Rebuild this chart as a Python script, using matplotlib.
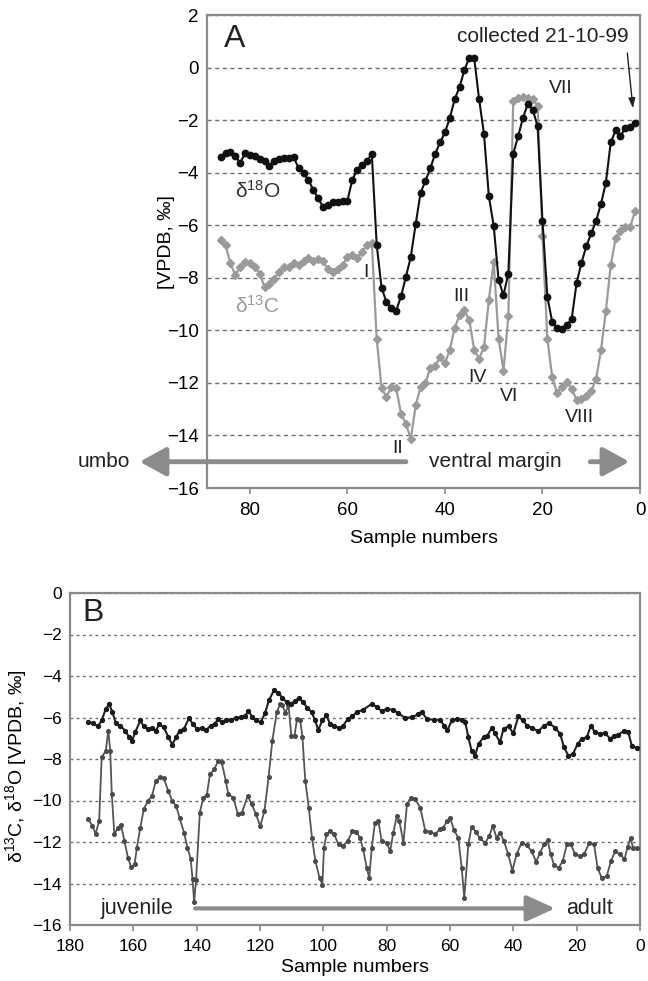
import matplotlib
matplotlib.use("Agg")
import matplotlib.pyplot as plt

plt.rcParams['font.family'] = ['Liberation Sans', 'DejaVu Sans']
plt.rcParams['mathtext.fontset'] = 'custom'
plt.rcParams['mathtext.rm'] = 'Liberation Sans'
plt.rcParams['mathtext.it'] = 'Liberation Sans:italic'
plt.rcParams['mathtext.bf'] = 'Liberation Sans:bold'

# ---------------- Panel A data ----------------
a_samples = list(range(86, 0, -1))
a_d18O = [-3.42, -3.25, -3.23, -3.36, -3.64, -3.26, -3.32, -3.38, -3.49, -3.57,
          -3.74, -3.54, -3.49, -3.45, -3.46, -3.42, -3.83, -4.02, -4.27, -4.66,
          -4.98, -5.30, -5.23, -5.10, -5.10, -5.06, -5.07, -4.27, -3.89, -3.70,
          -3.54, -3.29, -6.74, -8.38, -8.92, -9.14, -9.25, -8.70, -7.96, -7.20,
          -5.95, -4.76, -4.31, -3.83, -3.28, -2.85, -2.47, -1.92, -1.20, -0.74,
          -0.08, 0.37, 0.35, -1.20, -2.52, -4.89, -6.03, -8.09, -8.66, -7.84,
          -3.28, -2.62, -1.92, -1.37, -1.60, -2.24, -5.83, -8.73, -9.68, -9.90,
          -9.94, -9.81, -9.55, -8.19, -7.43, -6.79, -6.31, -5.83, -5.19, -4.38,
          -2.85, -2.39, -2.60, -2.30, -2.26, -2.12]
a_d13C = [-6.56, -6.76, -7.45, -7.90, -7.58, -7.39, -7.45, -7.58, -7.84, -8.35,
          -8.22, -8.03, -7.77, -7.58, -7.58, -7.43, -7.52, -7.35, -7.26, -7.35,
          -7.30, -7.35, -7.68, -7.77, -7.65, -7.52, -7.20, -7.14, -7.26, -7.01,
          -6.76, -6.67, -10.32, -12.20, -12.54, -12.15, -12.20, -13.18, -13.56, -14.13,
          -12.86, -12.16, -12.01, -11.43, -11.37, -11.02, -11.25, -10.74, -9.90, -9.43,
          -9.24, -9.62, -10.74, -11.08, -10.64, -8.85, -7.39, -10.32, -11.53, -9.47,
          -1.29, -1.16, -1.12, -1.15, -1.20, -1.45, -6.40, -10.32, -11.78, -12.39,
          -12.16, -11.97, -12.23, -12.65, -12.60, -12.48, -12.32, -11.85, -10.76, -9.26,
          -7.52, -6.50, -6.21, -6.05, -6.05, -5.45]
a_xticks = [80, 60, 40, 20, 0]
a_yticks = [2, 0, -2, -4, -6, -8, -10, -12, -14, -16]
a_event_labels = ['I', 'II', 'III', 'IV', 'VI', 'VII', 'VIII']
a_event_x = [56.3, 49.7, 36.7, 33.3, 26.8, 16.2, 12.5]
a_event_y = [-7.8, -14.5, -8.7, -11.8, -12.5, -0.8, -13.3]

# ---------------- Panel B data ----------------
b_O_x = [174.2, 172.6, 171.2, 170.0, 168.7, 167.6, 166.6, 165.5, 164.2, 162.6,
         161.3, 160.4, 159.4, 157.8, 156.7, 155.4, 154.1, 152.9, 151.8, 150.4,
         149.0, 147.7, 146.5, 145.4, 144.0, 142.4, 141.2, 139.8, 138.2, 137.0,
         135.6, 134.3, 133.2, 131.9, 130.7, 129.3, 127.7, 126.1, 124.8, 123.7,
         122.4, 121.2, 119.8, 118.4, 117.2, 115.6, 114.2, 112.9, 111.6, 110.3,
         108.9, 107.7, 106.4, 105.1, 103.7, 102.6, 101.6, 100.3, 99.0, 97.9,
         96.6, 95.2, 93.9, 92.3, 90.8, 89.5, 87.4, 84.7, 83.1, 81.6,
         80.0, 78.1, 76.3, 74.2, 72.1, 70.0, 68.9, 67.3, 65.2, 63.1,
         61.9, 60.8, 59.4, 57.8, 56.3, 55.2, 54.2, 53.2, 52.1, 51.0,
         49.4, 48.2, 46.8, 45.8, 44.2, 43.1, 41.5, 40.0, 38.4, 37.0,
         35.7, 34.2, 32.1, 30.3, 28.6, 26.8, 25.2, 24.0, 22.6, 21.2,
         19.7, 18.4, 16.8, 15.5, 14.2, 12.6, 11.0, 9.4, 8.2, 6.8,
         5.2, 3.7, 2.6, 1.0]
b_O_y = [-6.23, -6.28, -6.43, -6.14, -5.58, -5.37, -5.74, -6.28, -6.39, -6.63,
         -6.95, -7.11, -6.71, -6.14, -6.43, -6.55, -6.50, -6.63, -6.33, -6.47,
         -6.92, -7.31, -6.95, -6.63, -6.55, -6.02, -6.33, -6.55, -6.50, -6.60,
         -6.39, -6.31, -6.07, -6.23, -6.14, -6.11, -6.02, -5.98, -5.95, -5.69,
         -5.98, -6.14, -6.23, -5.79, -5.18, -4.69, -4.82, -5.05, -5.26, -5.34,
         -5.21, -5.05, -5.26, -5.53, -5.74, -6.14, -6.60, -6.14, -5.90, -6.31,
         -6.39, -6.50, -6.43, -6.07, -5.95, -5.74, -5.63, -5.34, -5.50, -5.69,
         -5.58, -5.63, -5.79, -6.02, -5.98, -5.85, -5.74, -6.07, -6.11, -6.11,
         -6.39, -6.60, -6.14, -6.07, -6.11, -6.23, -6.95, -7.60, -7.84, -7.28,
         -6.95, -6.87, -6.50, -6.76, -7.19, -6.55, -6.43, -6.76, -5.95, -6.14,
         -6.39, -6.50, -6.66, -6.39, -6.28, -6.50, -6.79, -7.44, -7.84, -7.76,
         -7.28, -7.03, -6.95, -6.39, -6.71, -6.79, -6.76, -7.03, -6.87, -6.82,
         -6.66, -6.71, -7.36, -7.47]
b_C_x = [174.2, 172.9, 171.9, 170.8, 170.0, 168.7, 167.9, 167.3, 166.8, 166.0,
         164.9, 163.9, 162.8, 161.7, 160.7, 159.6, 158.9, 157.8, 156.7, 155.4,
         154.1, 152.9, 151.5, 150.4, 149.0, 147.7, 146.5, 145.4, 144.0, 142.9,
         141.9, 141.3, 140.8, 140.2, 139.0, 137.9, 136.8, 135.8, 134.4, 133.2,
         132.1, 130.8, 130.0, 128.4, 127.0, 125.7, 123.9, 122.6, 121.3, 119.9,
         118.6, 117.3, 116.1, 114.7, 113.6, 112.9, 112.0, 111.0, 110.1, 109.1,
         108.3, 107.3, 106.6, 105.7, 104.6, 103.6, 102.5, 101.2, 100.3, 99.8,
         99.0, 97.9, 96.6, 95.2, 93.9, 92.3, 90.8, 89.7, 88.4, 87.4,
         86.3, 85.5, 84.7, 83.7, 82.6, 81.6, 80.0, 78.9, 77.9, 76.8,
         76.0, 74.7, 73.6, 72.4, 71.0, 69.4, 67.8, 66.3, 64.7, 63.3,
         62.1, 61.0, 59.9, 58.7, 57.4, 56.3, 55.5, 54.2, 53.2, 51.8,
         50.5, 48.9, 47.6, 46.5, 45.3, 44.2, 43.0, 41.6, 40.3, 39.0,
         37.4, 35.8, 34.2, 32.8, 31.6, 30.3, 29.2, 28.2, 27.1, 25.7,
         24.4, 23.1, 21.8, 20.5, 19.1, 17.7, 16.0, 14.5, 13.4, 12.1,
         10.5, 9.2, 7.8, 6.2, 4.9, 3.9, 3.0, 2.2, 0.8]
b_C_y = [-10.91, -11.23, -11.60, -10.99, -7.92, -7.60, -6.63, -7.60, -9.70, -11.63,
         -11.31, -11.18, -11.95, -12.76, -13.21, -13.08, -12.28, -11.31, -10.42, -10.02,
         -9.78, -9.05, -8.89, -8.92, -9.54, -10.02, -10.26, -10.83, -11.55, -12.28,
         -12.80, -13.80, -14.90, -13.85, -10.58, -9.86, -9.73, -8.73, -8.49, -8.08,
         -8.16, -9.05, -9.70, -9.86, -10.66, -10.58, -9.78, -10.18, -10.66, -11.23,
         -10.50, -8.89, -7.11, -5.74, -5.34, -5.42, -5.79, -5.42, -6.87, -6.87,
         -6.06, -6.14, -6.95, -9.05, -10.34, -11.79, -12.92, -13.73, -14.05, -12.28,
         -11.63, -11.47, -11.63, -12.12, -12.20, -11.95, -11.47, -11.50, -11.79, -12.36,
         -13.25, -13.73, -12.28, -11.07, -10.99, -11.95, -12.04, -12.44, -11.55, -10.75,
         -10.99, -12.04, -10.18, -9.86, -9.94, -10.34, -11.47, -11.50, -11.63, -11.39,
         -11.31, -10.99, -10.86, -11.44, -11.79, -13.25, -14.70, -12.12, -11.28, -11.50,
         -11.83, -12.04, -11.71, -11.23, -11.79, -11.55, -11.95, -12.60, -13.38, -12.60,
         -12.04, -12.15, -12.44, -12.96, -12.52, -12.12, -11.92, -12.60, -13.12, -13.25,
         -12.92, -12.12, -12.12, -12.60, -12.68, -12.60, -12.04, -12.12, -13.25, -13.73,
         -13.65, -12.92, -12.44, -12.60, -12.84, -12.23, -11.81, -12.28, -12.31]
b_xticks = [180, 160, 140, 120, 100, 80, 60, 40, 20, 0]
b_yticks = [0, -2, -4, -6, -8, -10, -12, -14, -16]

FRAME = '#8a8a8a'
ARROW = '#8c8c8c'

fig = plt.figure(figsize=(6.48, 9.81), dpi=100)
axA = fig.add_axes([207 / 648, 1 - 488 / 981, 433 / 648, 473 / 981])
axB = fig.add_axes([70 / 648, 1 - 925 / 981, 570 / 648, 332 / 981])


def style(ax, xticks, yticks, xlim, ylim, tick_fs, gdash):
    ax.set_xlim(*xlim)
    ax.set_ylim(*ylim)
    ax.set_xticks(xticks)
    ax.set_yticks(yticks)
    for s in ax.spines.values():
        s.set_color(FRAME)
        s.set_linewidth(1.6)
    ax.tick_params(axis='y', length=0, pad=6, labelsize=tick_fs)
    ax.tick_params(axis='x', direction='out', length=4, width=1.2, color=FRAME,
                   pad=6, labelsize=tick_fs)
    ax.yaxis.grid(True, linestyle=(0, gdash), color='#6e6e6e', linewidth=1.0)
    ax.set_axisbelow(True)


# ---------------- Panel A ----------------
style(axA, a_xticks, a_yticks, (88.8, 0), (-16, 2), 13.5, (3, 2.5))
axA.plot(a_samples, a_d13C, color='#9a9a9a', lw=1.6, marker='D', ms=3.6,
         mfc='#9a9a9a', mec='#9a9a9a', zorder=3)
axA.plot(a_samples, a_d18O, color='#111111', lw=1.5, marker='o', ms=4.6,
         mfc='#111111', mec='#111111', zorder=4)
axA.set_xlabel('Sample numbers', fontsize=14, labelpad=8)
axA.set_ylabel('[VPDB, ‰]', fontsize=14)
axA.yaxis.set_label_coords(-0.074, 0.52)
axA.text(83.1, 1.07, 'A', fontsize=23, ha='center', va='center', color='#222222')
axA.text(78.3, -4.69, 'δ$^{18}$O', fontsize=15, ha='center', va='center', color='#333333')
axA.text(78.5, -9.05, 'δ$^{13}$C', fontsize=15, ha='center', va='center', color='#9a9a9a')
for lab, x, y in zip(a_event_labels, a_event_x, a_event_y):
    axA.text(x, y, lab, fontsize=14, ha='center', va='center', color='#222222')
axA.text(2.3, 1.2, 'collected 21-10-99', fontsize=15, ha='right', va='center',
         color='#222222')
axA.annotate('', xy=(1.45, -1.55), xytext=(2.6, 0.55),
             arrowprops=dict(arrowstyle='-|>,head_length=0.6,head_width=0.2',
                             color='#222222', lw=1.0, shrinkA=0, shrinkB=0,
                             mutation_scale=10))
# umbo / ventral margin arrows
axA.annotate('', xy=(102.6, -15.0), xytext=(48.0, -15.0), annotation_clip=False,
             arrowprops=dict(arrowstyle='-|>,head_length=1.0,head_width=0.55',
                             color=ARROW, lw=3.5, shrinkA=0, shrinkB=0,
                             mutation_scale=16))
axA.text(104.6, -15.0, 'umbo', fontsize=15, ha='right', va='center', color='#222222',
         clip_on=False)
axA.text(43.2, -15.0, 'ventral margin', fontsize=15, ha='left', va='center',
         color='#222222')
axA.annotate('', xy=(2.2, -15.0), xytext=(10.2, -15.0),
             arrowprops=dict(arrowstyle='-|>,head_length=1.0,head_width=0.55',
                             color=ARROW, lw=3.5, shrinkA=0, shrinkB=0,
                             mutation_scale=16))

# ---------------- Panel B ----------------
style(axB, b_xticks, b_yticks, (180, 0), (-16, 0), 12.5, (2, 2.5))
axB.plot(b_C_x, b_C_y, color='#555555', lw=1.3, marker='o', ms=2.6,
         mfc='#4a4a4a', mec='#4a4a4a', zorder=3)
axB.plot(b_O_x, b_O_y, color='#222222', lw=1.5, marker='o', ms=2.8,
         mfc='#1a1a1a', mec='#1a1a1a', zorder=4)
axB.set_xlabel('Sample numbers', fontsize=14, labelpad=4)
axB.set_ylabel('δ$^{13}$C, δ$^{18}$O [VPDB, ‰]', fontsize=14)
axB.yaxis.set_label_coords(-0.072, 0.48)
axB.text(172.7, -0.95, 'B', fontsize=23, ha='center', va='center', color='#222222')
axB.text(170.5, -15.2, 'juvenile', fontsize=15.5, ha='left', va='center',
         color='#222222')
axB.annotate('', xy=(26.8, -15.2), xytext=(140.5, -15.2),
             arrowprops=dict(arrowstyle='-|>,head_length=1.1,head_width=0.5',
                             color=ARROW, lw=3.0, shrinkA=0, shrinkB=0,
                             mutation_scale=16))
axB.text(23.4, -15.2, 'adult', fontsize=15.5, ha='left', va='center',
         color='#222222')

fig.savefig('out.png', dpi=100)
